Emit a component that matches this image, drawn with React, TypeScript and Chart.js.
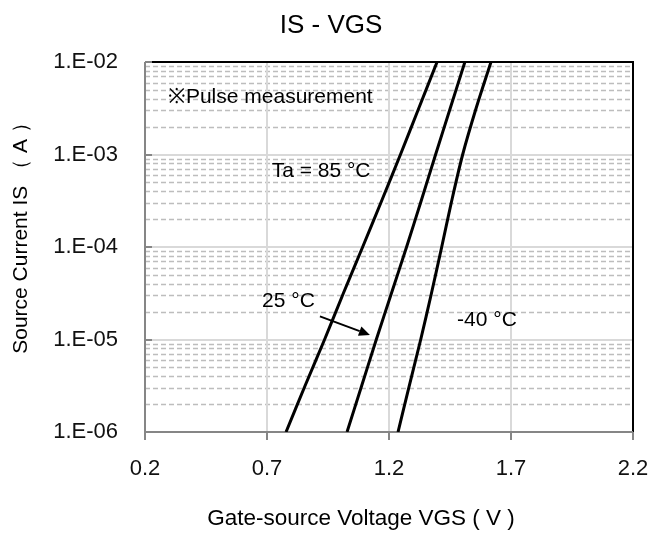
import React, { useEffect, useRef } from 'react';
import { Chart, registerables } from 'chart.js';

Chart.register(...registerables);

// Source current levels (A), shared by every curve
const currentLevels = [1e-6, 3.16e-6, 1e-5, 3.16e-5, 1e-4, 3.16e-4, 1e-3, 3.16e-3, 1e-2];
// Gate-source voltage (V) at each current level
const vgs85 = [0.778, 0.856, 0.936, 1.013, 1.092, 1.17, 1.247, 1.322, 1.397];
const vgs25 = [1.028, 1.088, 1.148, 1.21, 1.272, 1.332, 1.391, 1.451, 1.511];
const vgsM40 = [1.237, 1.283, 1.33, 1.374, 1.416, 1.457, 1.502, 1.557, 1.618];

const xTicks = [0.2, 0.7, 1.2, 1.7, 2.2];
const yDecades = [1e-6, 1e-5, 1e-4, 1e-3, 1e-2];
const yTickLabels = ['1.E-06', '1.E-05', '1.E-04', '1.E-03', '1.E-02'];

const chartTitle = 'IS - VGS';
const xTitle = 'Gate-source Voltage VGS ( V )';
const yTitle = 'Source Current IS （ A ）';

// annotations anchored in data coordinates (left edge, text baseline)
const notes = [
  { text: '※Pulse measurement', x: 0.294, y: 3.6e-3 },
  { text: 'Ta = 85 °C', x: 0.719, y: 5.7e-4 },
  { text: '25 °C', x: 0.68, y: 2.24e-5 },
  { text: '-40 °C', x: 1.479, y: 1.4e-5 },
];
const arrowFrom = { x: 0.917, y: 1.78e-5 };
const arrowTo = { x: 1.122, y: 1.12e-5 };

const FONT = '"Liberation Sans", Arial, sans-serif';

const toPoints = (xs: number[]) => xs.map((x, i) => ({ x, y: currentLevels[i] }));

const decorPlugin = {
  id: 'decor',
  beforeDatasetsDraw(chart: any) {
    const { ctx, chartArea: a, scales } = chart;
    const xs = scales.x;
    const ys = scales.y;
    ctx.save();
    // minor dashed horizontal grid
    ctx.strokeStyle = '#bdbdbd';
    ctx.lineWidth = 1.5;
    ctx.setLineDash([5, 3]);
    for (let e = -6; e < -2; e++) {
      for (let m = 2; m <= 9; m++) {
        const py = Math.round(ys.getPixelForValue(m * Math.pow(10, e))) + 0.5;
        ctx.beginPath();
        ctx.moveTo(a.left, py);
        ctx.lineTo(a.right, py);
        ctx.stroke();
      }
    }
    ctx.setLineDash([]);
    // major grid
    ctx.strokeStyle = '#d9d9d9';
    ctx.lineWidth = 2;
    yDecades.forEach((v) => {
      const py = Math.round(ys.getPixelForValue(v));
      ctx.beginPath();
      ctx.moveTo(a.left, py);
      ctx.lineTo(a.right, py);
      ctx.stroke();
    });
    xTicks.forEach((v) => {
      const px = Math.round(xs.getPixelForValue(v));
      ctx.beginPath();
      ctx.moveTo(px, a.top);
      ctx.lineTo(px, a.bottom);
      ctx.stroke();
    });
    // borders
    ctx.lineWidth = 2;
    ctx.strokeStyle = '#000';
    ctx.beginPath();
    ctx.moveTo(a.left, a.top);
    ctx.lineTo(a.right, a.top);
    ctx.lineTo(a.right, a.bottom);
    ctx.stroke();
    ctx.strokeStyle = '#868686';
    ctx.beginPath();
    ctx.moveTo(a.left, a.top);
    ctx.lineTo(a.left, a.bottom);
    ctx.lineTo(a.right, a.bottom);
    ctx.stroke();
    // tick marks
    xTicks.forEach((v) => {
      const px = Math.round(xs.getPixelForValue(v));
      ctx.beginPath();
      ctx.moveTo(px, a.bottom);
      ctx.lineTo(px, a.bottom + 8);
      ctx.stroke();
    });
    yDecades.forEach((v) => {
      const py = Math.round(ys.getPixelForValue(v));
      ctx.beginPath();
      ctx.moveTo(a.left, py);
      ctx.lineTo(a.left + 7, py);
      ctx.stroke();
    });
    ctx.restore();
  },
  afterDraw(chart: any) {
    const { ctx, scales } = chart;
    const xs = scales.x;
    const ys = scales.y;
    ctx.save();
    ctx.fillStyle = '#000';
    ctx.textBaseline = 'alphabetic';
    // chart title
    ctx.font = `26px ${FONT}`;
    ctx.textAlign = 'center';
    ctx.fillText(chartTitle, 331, 33);
    // x title
    ctx.font = `22.5px ${FONT}`;
    ctx.fillText(xTitle, 361, 525);
    // y title
    ctx.font = `21px ${FONT}`;
    ctx.save();
    ctx.translate(27, 233);
    ctx.rotate(-Math.PI / 2);
    ctx.fillText(yTitle, 0, 0);
    ctx.restore();
    // notes
    ctx.font = `21px ${FONT}`;
    ctx.textAlign = 'left';
    notes.forEach((n) => {
      ctx.fillText(n.text, xs.getPixelForValue(n.x), ys.getPixelForValue(n.y));
    });
    // arrow
    const x1 = xs.getPixelForValue(arrowFrom.x);
    const y1 = ys.getPixelForValue(arrowFrom.y);
    const x2 = xs.getPixelForValue(arrowTo.x);
    const y2 = ys.getPixelForValue(arrowTo.y);
    const ang = Math.atan2(y2 - y1, x2 - x1);
    const head = 11;
    const bx = x2 - head * Math.cos(ang);
    const by = y2 - head * Math.sin(ang);
    ctx.strokeStyle = '#000';
    ctx.lineWidth = 2;
    ctx.beginPath();
    ctx.moveTo(x1, y1);
    ctx.lineTo(bx, by);
    ctx.stroke();
    ctx.beginPath();
    ctx.moveTo(x2, y2);
    ctx.lineTo(bx + 5 * Math.sin(ang), by - 5 * Math.cos(ang));
    ctx.lineTo(bx - 5 * Math.sin(ang), by + 5 * Math.cos(ang));
    ctx.closePath();
    ctx.fill();
    ctx.restore();
  },
};

export default function App() {
  const canvasRef = useRef<HTMLCanvasElement | null>(null);

  useEffect(() => {
    if (!canvasRef.current) return;
    const lineStyle = {
      borderColor: '#000',
      backgroundColor: '#000',
      borderWidth: 3,
      pointRadius: 0,
      showLine: true,
      tension: 0.3,
      fill: false,
    };
    const chart = new Chart(canvasRef.current, {
      type: 'scatter',
      data: {
        datasets: [
          { label: '85 °C', data: toPoints(vgs85), ...lineStyle },
          { label: '25 °C', data: toPoints(vgs25), ...lineStyle },
          { label: '-40 °C', data: toPoints(vgsM40), ...lineStyle },
        ],
      },
      options: {
        animation: false,
        responsive: false,
        devicePixelRatio: 1,
        layout: { padding: { left: 0, right: 16, top: 62, bottom: 0 } },
        plugins: {
          legend: { display: false },
          title: { display: false },
          tooltip: { enabled: false },
        },
        scales: {
          x: {
            type: 'linear',
            min: 0.2,
            max: 2.2,
            afterBuildTicks: (s: any) => {
              s.ticks = xTicks.map((v) => ({ value: v }));
            },
            afterFit: (s: any) => {
              s.height = 101;
              s.paddingLeft = 0;
              s.paddingRight = 0;
            },
            grid: { display: false, drawTicks: false },
            border: { display: false },
            ticks: {
              autoSkip: false,
              maxRotation: 0,
              padding: 24,
              color: '#111',
              font: { family: FONT, size: 22 },
              callback: (v: any) => Number(v).toFixed(1),
            },
          },
          y: {
            type: 'logarithmic',
            min: 1e-6,
            max: 1e-2,
            afterBuildTicks: (s: any) => {
              s.ticks = yDecades.map((v) => ({ value: v }));
            },
            afterFit: (s: any) => {
              s.width = 145;
              s.paddingTop = 0;
              s.paddingBottom = 0;
            },
            grid: { display: false, drawTicks: false },
            border: { display: false },
            ticks: {
              autoSkip: false,
              padding: 27,
              color: '#111',
              font: { family: FONT, size: 22 },
              callback: (v: any) => {
                const i = yDecades.findIndex((d) => Math.abs(d - Number(v)) / d < 1e-6);
                return i >= 0 ? yTickLabels[i] : '';
              },
            },
          },
        },
      },
      plugins: [decorPlugin],
    });
    return () => chart.destroy();
  }, []);

  return (
    <div style={{ position: 'fixed', left: 0, top: 0, width: 649, height: 533, background: '#fff' }}>
      <canvas ref={canvasRef} width={649} height={533} style={{ display: 'block' }} />
    </div>
  );
}
